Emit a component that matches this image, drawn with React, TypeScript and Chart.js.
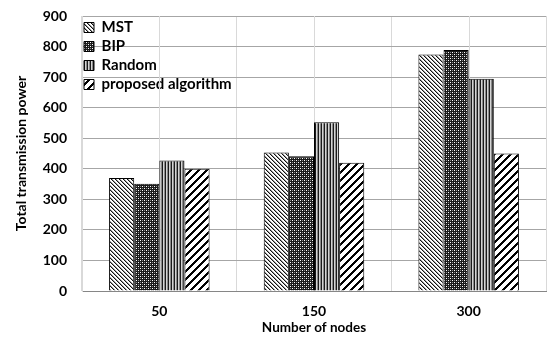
import React, { useEffect, useRef } from "react";
import { Chart, registerables } from "chart.js";

Chart.register(...registerables);

const categories = ["50", "150", "300"];
const seriesNames = ["MST", "BIP", "Random", "proposed algorithm"];
const mstValues = [370, 453, 774];
const bipValues = [351, 441, 789];
const randomValues = [427, 552, 695];
const proposedValues = [400, 420, 450];
const yTickStep = 100;
const yMax = 900;

function makePattern(w: number, h: number, draw: (ctx: CanvasRenderingContext2D) => void) {
  const c = document.createElement("canvas");
  c.width = w;
  c.height = h;
  const ctx = c.getContext("2d")!;
  ctx.fillStyle = "#ffffff";
  ctx.fillRect(0, 0, w, h);
  draw(ctx);
  return ctx.createPattern(c, "repeat")!;
}

function px(ctx: CanvasRenderingContext2D, x: number, y: number, color: string) {
  ctx.fillStyle = color;
  ctx.fillRect(x, y, 1, 1);
}

// vertical gridlines through each category centre, placed with the x scale
const centreGridPlugin = {
  id: "centreGrid",
  beforeDatasetsDraw(chart: any) {
    const xs = chart.scales.x;
    const { top, bottom } = chart.chartArea;
    const ctx = chart.ctx;
    ctx.save();
    ctx.strokeStyle = "#d9d9d9";
    ctx.lineWidth = 1;
    categories.forEach((_, i) => {
      const x = Math.round(xs.getPixelForValue(i)) + 0.5;
      ctx.beginPath();
      ctx.moveTo(x, top);
      ctx.lineTo(x, bottom);
      ctx.stroke();
    });
    ctx.restore();
  },
};

// keep the chartArea legend at the top-left corner of the plot area
const legendPlacePlugin = {
  id: "legendPlace",
  afterLayout(chart: any) {
    const l = chart.legend;
    if (!l) return;
    const h = l.bottom - l.top;
    l.top = chart.chartArea.top;
    l.bottom = l.top + h;
    l.left = chart.chartArea.left - 2;
  },
};

export default function App() {
  const ref = useRef<HTMLCanvasElement | null>(null);

  useEffect(() => {
    if (!ref.current) return;
    const mstPattern = makePattern(4, 4, (ctx) => {
      for (let i = 0; i < 4; i++) {
        px(ctx, i, i, "#111");
        px(ctx, (i + 1) % 4, i, "#9a9a9a");
      }
    });
    const bipPattern = makePattern(4, 4, (ctx) => {
      ctx.fillStyle = "#1a1a1a";
      ctx.fillRect(0, 0, 4, 4);
      px(ctx, 0, 0, "#ffffff");
      px(ctx, 2, 2, "#ffffff");
      px(ctx, 2, 0, "#888888");
      px(ctx, 0, 2, "#888888");
    });
    const randomPattern = makePattern(3, 1, (ctx) => {
      px(ctx, 0, 0, "#1a1a1a");
      px(ctx, 1, 0, "#d4d4d4");
      px(ctx, 2, 0, "#8a8a8a");
    });
    const proposedPattern = makePattern(8, 8, (ctx) => {
      for (let y = 0; y < 8; y++) {
        for (let k = 0; k < 3; k++) {
          px(ctx, (7 - y + k + 8) % 8, y, "#000");
        }
      }
    });

    const family = "Lato, 'Liberation Sans', sans-serif";
    Chart.defaults.font.family = family;
    const tickFont = { family, size: 14, weight: "bold" as const };
    const yTitleFont = { family, size: 14, weight: "bold" as const };
    const xTitleFont = { family, size: 13.5, weight: "bold" as const };
    const legendFont = { family, size: 15, weight: "bold" as const };

    const chart = new Chart(ref.current, {
      type: "bar",
      data: {
        labels: categories,
        datasets: [
          { label: seriesNames[0], data: mstValues, backgroundColor: mstPattern },
          { label: seriesNames[1], data: bipValues, backgroundColor: bipPattern },
          { label: seriesNames[2], data: randomValues, backgroundColor: randomPattern },
          { label: seriesNames[3], data: proposedValues, backgroundColor: proposedPattern },
        ].map((d) => ({
          ...d,
          borderColor: "#000000",
          borderWidth: 1,
          categoryPercentage: 0.65,
          barPercentage: 1,
        })),
      },
      plugins: [centreGridPlugin, legendPlacePlugin],
      options: {
        animation: false,
        responsive: true,
        maintainAspectRatio: false,
        layout: { padding: { top: 16, right: 2, left: 0, bottom: 0 } },
        plugins: {
          tooltip: { enabled: false },
          legend: {
            position: "chartArea",
            align: "start",
            labels: {
              font: legendFont,
              color: "#000",
              boxWidth: 10,
              boxHeight: 10,
              padding: 4,
            },
          },
        },
        scales: {
          x: {
            type: "category",
            position: "bottom",
            offset: true,
            grid: { offset: true, color: "#d9d9d9", drawTicks: false },
            border: { display: true, color: "#868686" },
            ticks: { font: tickFont, color: "#000", padding: 12 },
            title: {
              display: true,
              text: "Number of nodes",
              font: xTitleFont,
              color: "#000",
              padding: { top: 0, bottom: 9 },
            },
            afterFit: (s: any) => {
              s.height = 54;
            },
          },
          y: {
            min: 0,
            max: yMax,
            grid: {
              color: "#a6a6a6",
              drawTicks: true,
              tickLength: 14,
              tickColor: "rgba(0,0,0,0)",
            },
            border: { display: true, color: "#d9d9d9" },
            ticks: { stepSize: yTickStep, font: tickFont, color: "#000", padding: 1 },
            title: {
              display: true,
              text: "Total transmission power",
              font: yTitleFont,
              color: "#000",
              padding: { top: 13, bottom: 0 },
            },
            afterFit: (s: any) => {
              s.width = 82;
            },
          },
        },
      },
    });
    return () => chart.destroy();
  }, []);

  return (
    <div style={{ position: "absolute", left: 0, top: 0, width: 548, height: 345 }}>
      <canvas ref={ref} />
    </div>
  );
}
